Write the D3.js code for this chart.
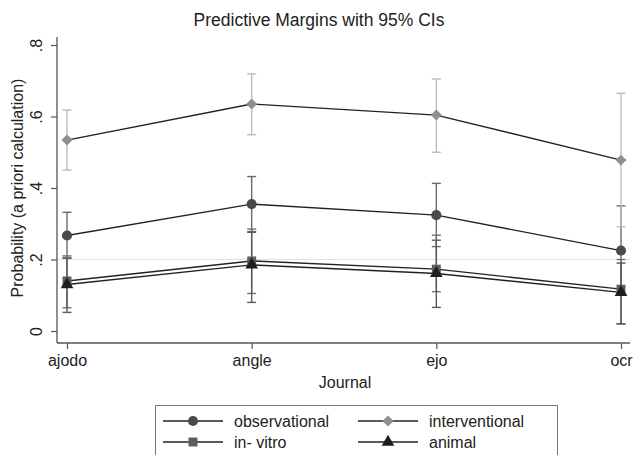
<!DOCTYPE html>
<html><head><meta charset="utf-8">
<script src="https://cdn.jsdelivr.net/npm/d3@7"></script>
<style>body{margin:0;background:#fff;}svg{display:block;font-family:"Liberation Sans",Arial,sans-serif;}</style>
</head><body>
<svg id="c" width="634" height="455"></svg>
<script>
const journals = ["ajodo","angle","ejo","ocr"];
const seriesNames = ["observational","interventional","in- vitro","animal"];
const observational = [0.267, 0.355, 0.324, 0.225];
const observationalLo = [0.204, 0.278, 0.236, 0.100];
const observationalHi = [0.332, 0.432, 0.413, 0.350];
const interventional = [0.534, 0.635, 0.604, 0.478];
const interventionalLo = [0.450, 0.549, 0.500, 0.292];
const interventionalHi = [0.618, 0.719, 0.705, 0.665];
const invitro = [0.140, 0.196, 0.173, 0.117];
const invitroLo = [0.065, 0.105, 0.110, 0.020];
const invitroHi = [0.210, 0.285, 0.268, 0.200];
const animal = [0.130, 0.185, 0.161, 0.108];
const animalLo = [0.052, 0.080, 0.066, 0.020];
const animalHi = [0.204, 0.276, 0.254, 0.190];
const yTicks = [0, 0.2, 0.4, 0.6, 0.8];
const yTickLabels = ["0", ".2", ".4", ".6", ".8"];

const series = [
  {name: seriesNames[0], v: observational, lo: observationalLo, hi: observationalHi, color: "#4a4a4a", ci: "#6a6a6a", shape: d3.symbolCircle, size: 80, rot: 0},
  {name: seriesNames[1], v: interventional, lo: interventionalLo, hi: interventionalHi, color: "#8f8f8f", ci: "#bdbdbd", shape: d3.symbolSquare, size: 60, rot: 45},
  {name: seriesNames[2], v: invitro, lo: invitroLo, hi: invitroHi, color: "#5e5e5e", ci: "#707070", shape: d3.symbolSquare, size: 80, rot: 0},
  {name: seriesNames[3], v: animal, lo: animalLo, hi: animalHi, color: "#1e1e1e", ci: "#5a5a5a", shape: d3.symbolTriangle, size: 70, rot: 0}
];

const svg = d3.select("#c");
const x = d3.scalePoint().domain(journals).range([67, 621]);
const y = d3.scaleLinear().domain([0, 0.8]).range([331, 45]);
const axisX0 = 57, axisY0 = 343;
const FONT = "Liberation Sans, Arial, sans-serif";

// gridline at .2
svg.append("line").attr("x1", axisX0).attr("x2", 630).attr("y1", y(0.2)).attr("y2", y(0.2))
  .attr("stroke", "#e2e2e2").attr("stroke-width", 1.2);

// title
svg.append("text").attr("x", 319).attr("y", 26).attr("text-anchor", "middle")
  .attr("font-size", 17.5).attr("fill", "#222").text("Predictive Margins with 95% CIs");

// y axis
const yAxis = d3.axisLeft(y).tickValues(yTicks).tickFormat((d, i) => yTickLabels[i]).tickSize(6).tickPadding(5);
const gy = svg.append("g").attr("transform", `translate(${axisX0},0)`).call(yAxis);
gy.select(".domain").attr("d", `M0,37V${axisY0}`).attr("stroke", "#555").attr("stroke-width", 1.3);
gy.selectAll(".tick line").attr("stroke", "#555").attr("stroke-width", 1.2);
gy.selectAll(".tick text").attr("font-size", 16).attr("fill", "#222").attr("font-family", FONT)
  .each(function(){
    d3.select(this).attr("x", null).attr("text-anchor", "middle")
     .attr("transform", "translate(-21,0) rotate(-90)").attr("y", 0).attr("dy", "0.35em");
  });

// x axis
const xAxis = d3.axisBottom(x).tickSize(6).tickPadding(6);
const gx = svg.append("g").attr("transform", `translate(0,${axisY0})`).call(xAxis);
gx.select(".domain").attr("d", `M${axisX0},0H630`).attr("stroke", "#555").attr("stroke-width", 1.3);
gx.selectAll(".tick line").attr("stroke", "#555").attr("stroke-width", 1.2);
gx.selectAll(".tick text").attr("font-size", 16).attr("fill", "#222").attr("font-family", FONT);

// axis titles
svg.append("text").attr("x", 345).attr("y", 388).attr("text-anchor", "middle").attr("font-size", 16).attr("fill", "#222").text("Journal");
svg.append("text").attr("transform", "translate(23,188) rotate(-90)").attr("text-anchor", "middle").attr("font-size", 16).attr("fill", "#222").text("Probability (a priori calculation)");

// CIs
const capW = 4.5;
series.forEach(s => {
  const g = svg.append("g");
  journals.forEach((j, i) => {
    const cx = x(j);
    g.append("line").attr("x1", cx).attr("x2", cx).attr("y1", y(s.lo[i])).attr("y2", y(s.hi[i])).attr("stroke", s.ci).attr("stroke-width", 1.4);
    [s.lo[i], s.hi[i]].forEach(v => g.append("line").attr("x1", cx - capW).attr("x2", cx + capW).attr("y1", y(v)).attr("y2", y(v)).attr("stroke", s.ci).attr("stroke-width", 1.4));
  });
});

// lines
const line = d3.line().x((d, i) => x(journals[i])).y(d => y(d));
series.forEach(s => {
  svg.append("path").attr("d", line(s.v)).attr("fill", "none").attr("stroke", "#222").attr("stroke-width", 1.4);
});
// markers
series.forEach(s => {
  svg.append("g").selectAll("path").data(s.v).join("path")
    .attr("transform", (d, i) => `translate(${x(journals[i])},${y(d)}) rotate(${s.rot})`)
    .attr("d", d3.symbol().type(s.shape).size(s.size)).attr("fill", s.color);
});

// legend
const lg = svg.append("g");
lg.append("rect").attr("x", 155.5).attr("y", 405.5).attr("width", 402).attr("height", 60).attr("fill", "#fff").attr("stroke", "#777").attr("stroke-width", 1);
const legPos = [[163, 421], [358, 421], [163, 442], [358, 442]];
series.forEach((s, k) => {
  const [lx, ly] = legPos[k];
  lg.append("line").attr("x1", lx).attr("x2", lx + 60).attr("y1", ly).attr("y2", ly).attr("stroke", "#222").attr("stroke-width", 1.4);
  lg.append("path").attr("transform", `translate(${lx + 30},${ly}) rotate(${s.rot})`).attr("d", d3.symbol().type(s.shape).size(s.size)).attr("fill", s.color);
  lg.append("text").attr("x", lx + 71).attr("y", ly).attr("dy", "0.35em").attr("font-size", 16).attr("fill", "#222").text(s.name);
});
</script>
</body></html>
